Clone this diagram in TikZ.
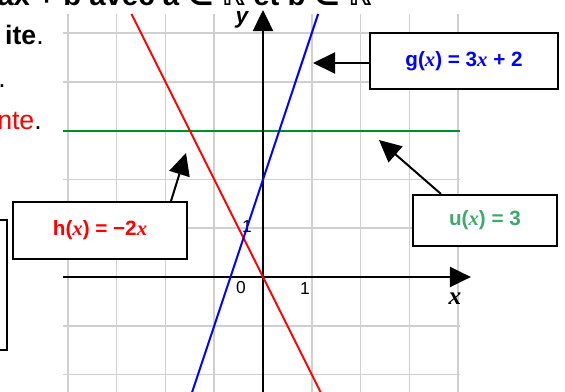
\documentclass[tikz,border=0pt]{standalone}
\usepackage{fontspec}
\setmainfont{Liberation Sans}
\newfontfamily\serifvar{Liberation Serif}
\newfontfamily\dejavu{DejaVu Sans}
\usetikzlibrary{arrows.meta}
\definecolor{gridgray}{RGB}{208,208,208}
\definecolor{linegreen}{RGB}{0,140,45}
\definecolor{textgreen}{RGB}{60,170,110}
\definecolor{fblue}{RGB}{0,0,255}
\definecolor{fred}{RGB}{255,0,0}
\newcommand{\varx}{{\serifvar\itshape x}}
\begin{document}
\begin{tikzpicture}[x=0.75pt,y=-0.75pt,
  gridline/.style={gridgray, line width=1.1pt},
  axisline/.style={line width=2.1pt, -{Triangle[length=15.75pt,width=15pt]}},
  fline/.style={line width=1.5pt},
  lbox/.style={draw, line width=1.5pt, fill=white, inner sep=0pt,
    font=\bfseries\fontsize{15.5}{18}\selectfont},
  callout/.style={line width=1.5pt, -{Triangle[length=16.5pt,width=15.75pt]}},
  ticklab/.style={font=\fontsize{13}{15}\selectfont, inner sep=0pt},
  bigtext/.style={font=\fontsize{20}{24}\selectfont, inner sep=0pt, anchor=base east}]
\useasboundingbox (0,0) rectangle (565,392);
\clip (0,0) rectangle (565,392);
\fill[white] (0,0) rectangle (565,392);

% top partial line of text
\node[font=\bfseries\fontsize{22}{26}\selectfont, inner sep=0pt, anchor=base west] (t0) at (-3,6)
  {ax + b avec a {\dejavu ∈} {\dejavu ℝ} et b {\dejavu ∈} {\dejavu ℝ}};
% left text fragments
\node[bigtext] (t1) at (44,45) {\textbf{ite}.};
\node[bigtext] (t2) at (6,88) {.};
\node[bigtext] (t3) at (42,130) {\textcolor{fred}{nte}.};
% left partial box
\draw[line width=1.5pt] (-10,220) rectangle (7,350);

\begin{scope}[shift={(263,277)}, x=36.6pt, y=36.6pt]
  \foreach \i in {-4,...,4} \draw[gridline] (\i,-2.6) -- (\i,5.39);
  \foreach \j in {-2,...,5} \draw[gridline] (-4.1,\j) -- (4.04,\j);
  \draw[linegreen, fline] (-4.1,3) -- (4.04,3);
  \coordinate (O) at (0,0);
  \coordinate (xs) at (-4.1,0);
  \coordinate (xe) at (4.26,0);
  \coordinate (ys) at (0,-2.6);
  \coordinate (ye) at (0,5.47);
\end{scope}

% tick labels
\node[ticklab] (l0) at (241,288) {0};
\node[ticklab] (lx1) at (305,289) {1};
\node[ticklab] (ly1) at (247,227) {1};

% axes
\draw[axisline] (xs) -- (xe);
\draw[axisline] (ys) -- (ye);
\node[inner sep=0pt, font=\serifvar\bfseries\itshape\fontsize{19}{22}\selectfont] (xl) at (455,299) {x};
\node[inner sep=0pt, font=\bfseries\itshape\fontsize{17}{20}\selectfont] (yl) at (242,20) {y};

% function lines
\begin{scope}[shift={(263,277)}, x=36.6pt, y=36.6pt]
  \draw[fred, fline] (-2.695,5.39) -- (1.3,-2.6);
  \draw[fblue, fline] (-1.533,-2.6) -- (1.13,5.39);
\end{scope}

% callout boxes
\node[lbox, text=fblue, minimum width=141pt, minimum height=42pt] (gbox) at (464,61)
  {g(\varx) = 3\varx{} + 2};
\node[lbox, text=fred, minimum width=130.5pt, minimum height=42.75pt] (hbox) at (100,230.5)
  {h(\varx) = \textminus2\varx};
\node[lbox, text=textgreen, minimum width=108pt, minimum height=38.25pt] (ubox) at (485,220.5)
  {u(\varx) = 3};

\coordinate (gtip) at (313,63);
\coordinate (htip) at (186,153);
\coordinate (utip) at (379,140);
\draw[callout] (gbox.west |- gtip) -- (gtip);
\draw[callout] ([xshift=53.25pt]hbox.north) -- (htip);
\draw[callout] ([xshift=-33pt]ubox.north) -- (utip);
\end{tikzpicture}
\end{document}
